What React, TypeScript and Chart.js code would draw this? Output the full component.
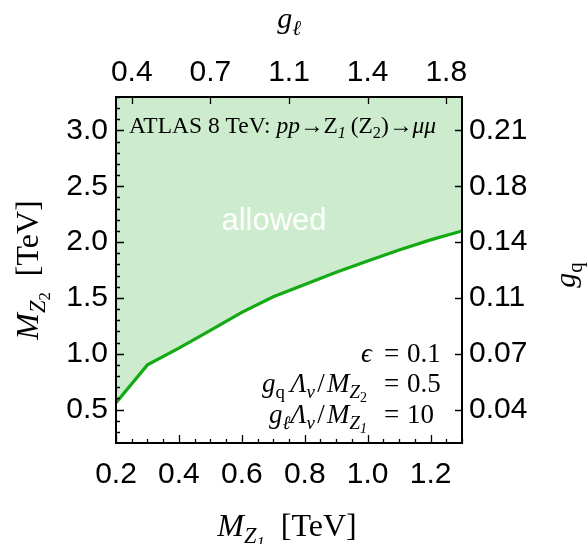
import React, { useEffect, useRef } from 'react';
import { Chart, registerables } from 'chart.js';

Chart.register(...registerables);

// ---- data ----
const mZ1 = [0.2, 0.3, 0.4, 0.5, 0.6, 0.7, 0.8, 0.9, 1.0, 1.1, 1.2, 1.3];
const mZ2Limit = [0.56, 0.9, 1.05, 1.21, 1.37, 1.51, 1.62, 1.73, 1.83, 1.93, 2.02, 2.1];

const xMajor = [0.2, 0.4, 0.6, 0.8, 1.0, 1.2];
const xLabels = ['0.2', '0.4', '0.6', '0.8', '1.0', '1.2'];
const yMajor = [0.5, 1.0, 1.5, 2.0, 2.5, 3.0];
const yLabels = ['0.5', '1.0', '1.5', '2.0', '2.5', '3.0'];
const topTicks = [0.25, 0.5, 0.75, 1.0, 1.25];
const topLabels = ['0.4', '0.7', '1.1', '1.4', '1.8'];
const rightTicks = [0.5, 1.0, 1.5, 2.0, 2.5, 3.0];
const rightLabels = ['0.04', '0.07', '0.11', '0.14', '0.18', '0.21'];

const X_MIN = 0.2, X_MAX = 1.3, Y_MIN = 0.2, Y_MAX = 3.3;

const LINE = 'rgb(20,170,20)';
const FILL = 'rgb(205,236,206)';
const SANS = '"Liberation Sans", Arial, sans-serif';
const SERIF = '"Liberation Serif", "Times New Roman", serif';

type Run = { t: string; it?: boolean; lvl?: number };

function runSize(r: Run, size: number) {
  return r.lvl === 1 ? size * 0.7 : r.lvl === 2 ? size * 0.52 : size;
}
function runFont(r: Run, size: number) {
  return `${r.it ? 'italic ' : ''}${runSize(r, size)}px ${SERIF}`;
}
function runDy(r: Run, size: number) {
  return r.lvl === 1 ? size * 0.22 : r.lvl === 2 ? size * 0.36 : 0;
}
function runsWidth(ctx: CanvasRenderingContext2D, runs: Run[], size: number) {
  let w = 0;
  for (const r of runs) {
    ctx.font = runFont(r, size);
    w += ctx.measureText(r.t).width;
  }
  return w;
}
function drawRuns(
  ctx: CanvasRenderingContext2D,
  runs: Run[],
  x: number,
  y: number,
  size: number,
  align: 'left' | 'center' | 'right',
  color = '#000'
) {
  const w = runsWidth(ctx, runs, size);
  let cx = align === 'center' ? x - w / 2 : align === 'right' ? x - w : x;
  ctx.fillStyle = color;
  ctx.textAlign = 'left';
  ctx.textBaseline = 'alphabetic';
  for (const r of runs) {
    ctx.font = runFont(r, size);
    ctx.fillText(r.t, cx, y + runDy(r, size));
    cx += ctx.measureText(r.t).width;
  }
}

const atlasRuns: Run[] = [
  { t: 'ATLAS 8 TeV: ' },
  { t: 'pp', it: true },
  { t: '\u2192' },
  { t: 'Z' },
  { t: '1', it: true, lvl: 1 },
  { t: '\u2009(' },
  { t: 'Z' },
  { t: '2', lvl: 1 },
  { t: ')' },
  { t: '\u2192' },
  { t: '\u03bc\u03bc', it: true },
];

const line1Left: Run[] = [{ t: '\u03f5', it: true }];
const line2Left: Run[] = [
  { t: 'g', it: true },
  { t: 'q', lvl: 1 },
  { t: '\u2009' },
  { t: '\u039b', it: true },
  { t: 'v', it: true, lvl: 1 },
  { t: '\u200a/\u200a' },
  { t: 'M', it: true },
  { t: 'Z', it: true, lvl: 1 },
  { t: '2', lvl: 2 },
];
const line3Left: Run[] = [
  { t: 'g', it: true },
  { t: '\u2113', it: true, lvl: 1 },
  { t: '\u039b', it: true },
  { t: 'v', it: true, lvl: 1 },
  { t: '\u200a/\u200a' },
  { t: 'M', it: true },
  { t: 'Z', it: true, lvl: 1 },
  { t: '1', it: true, lvl: 2 },
];
const paramValues = ['0.1', '0.5', '10'];

const bottomTitle: Run[] = [
  { t: 'M', it: true },
  { t: 'Z', it: true, lvl: 1 },
  { t: '1', it: true, lvl: 2 },
  { t: '  [TeV]' },
];
const leftTitle: Run[] = [
  { t: 'M', it: true },
  { t: 'Z', it: true, lvl: 1 },
  { t: '2', lvl: 2 },
  { t: '  [TeV]' },
];
const topTitle: Run[] = [
  { t: 'g', it: true },
  { t: '\u2113', it: true, lvl: 1 },
];
const rightTitle: Run[] = [
  { t: 'g', it: true },
  { t: 'q', lvl: 1 },
];

const decorPlugin = {
  id: 'decor',
  afterDatasetsDraw(chart: any) {
    const ctx: CanvasRenderingContext2D = chart.ctx;
    const { left, right, top, bottom } = chart.chartArea;
    const xs = chart.scales.x;
    const ys = chart.scales.y;
    ctx.save();

    // "allowed"
    ctx.fillStyle = '#fff';
    ctx.font = `31px ${SANS}`;
    ctx.textAlign = 'center';
    ctx.textBaseline = 'alphabetic';
    ctx.fillText('allowed', 274, 230);

    // inward tick marks
    ctx.strokeStyle = '#000';
    ctx.lineWidth = 1.3;
    ctx.beginPath();
    for (let k = 4; k <= 26; k++) {
      const v = k * 0.05;
      const px = Math.round(xs.getPixelForValue(v)) + 0.5;
      const major = k % 4 === 0;
      const len = major ? 8 : 4;
      ctx.moveTo(px, bottom);
      ctx.lineTo(px, bottom - len);
    }
    for (let k = 3; k <= 33; k++) {
      const v = k * 0.1;
      const py = Math.round(ys.getPixelForValue(v)) + 0.5;
      const major = k % 5 === 0;
      const len = major ? 8 : 4;
      ctx.moveTo(left, py);
      ctx.lineTo(left + len, py);
    }
    const xt = chart.scales.x2;
    for (const v of topTicks) {
      const px = Math.round(xt.getPixelForValue(v)) + 0.5;
      ctx.moveTo(px, top);
      ctx.lineTo(px, top + 7);
    }
    const yr = chart.scales.y2;
    for (const v of rightTicks) {
      const py = Math.round(yr.getPixelForValue(v)) + 0.5;
      ctx.moveTo(right, py);
      ctx.lineTo(right - 7, py);
    }
    ctx.stroke();

    // frame
    ctx.lineWidth = 2;
    ctx.strokeRect(left, top, right - left, bottom - top);

    // annotation texts
    drawRuns(ctx, atlasRuns, 129, 133, 23.5, 'left');
    const eqX = 384;
    const baseY = [362, 392, 423];
    const leftEnds = [372, 367, 367];
    const lefts = [line1Left, line2Left, line3Left];
    for (let i = 0; i < 3; i++) {
      drawRuns(ctx, lefts[i], leftEnds[i], baseY[i], 27, 'right');
      drawRuns(ctx, [{ t: '=' }], eqX, baseY[i], 27, 'left');
      drawRuns(ctx, [{ t: paramValues[i] }], eqX + 23, baseY[i], 27, 'left');
    }

    // axis titles
    const cx = (left + right) / 2;
    const cy = (top + bottom) / 2;
    drawRuns(ctx, bottomTitle, cx - 2, 536, 32, 'center');
    drawRuns(ctx, topTitle, cx, 28, 30, 'center');
    ctx.save();
    ctx.translate(38, cy);
    ctx.rotate(-Math.PI / 2);
    drawRuns(ctx, leftTitle, 0, 0, 32, 'center');
    ctx.restore();
    ctx.save();
    ctx.translate(575, cy + 5);
    ctx.rotate(-Math.PI / 2);
    drawRuns(ctx, rightTitle, 0, 0, 30, 'center');
    ctx.restore();

    ctx.restore();
  },
};

const tickFont = { family: SANS, size: 30 };

export default function App() {
  const ref = useRef<HTMLCanvasElement | null>(null);
  useEffect(() => {
    if (!ref.current) return;
    const chart = new Chart(ref.current, {
      type: 'line',
      data: {
        datasets: [
          {
            data: mZ1.map((x, i) => ({ x, y: mZ2Limit[i] })),
            borderColor: LINE,
            borderWidth: 3.2,
            backgroundColor: FILL,
            fill: 'end',
            pointRadius: 0,
            tension: 0,
            xAxisID: 'x',
            yAxisID: 'y',
          },
        ],
      },
      options: {
        animation: false,
        responsive: false,
        devicePixelRatio: 1,
        events: [],
        layout: { padding: 0 },
        plugins: { legend: { display: false }, tooltip: { enabled: false } },
        scales: {
          x: {
            type: 'linear',
            position: 'bottom',
            min: X_MIN,
            max: X_MAX,
            afterBuildTicks: (s: any) => {
              s.ticks = xMajor.map((v) => ({ value: v }));
            },
            afterFit: (s: any) => {
              s.height = 101;
            },
            ticks: {
              callback: (_v: any, i: number) => xLabels[i],
              font: tickFont,
              color: '#000',
              padding: 14,
              maxRotation: 0,
              autoSkip: false,
            },
            grid: { display: false, drawTicks: false },
            border: { display: false },
          },
          x2: {
            type: 'linear',
            position: 'top',
            min: X_MIN,
            max: X_MAX,
            afterBuildTicks: (s: any) => {
              s.ticks = topTicks.map((v) => ({ value: v }));
            },
            afterFit: (s: any) => {
              s.height = 97;
            },
            ticks: {
              callback: (_v: any, i: number) => topLabels[i],
              font: tickFont,
              color: '#000',
              padding: 6,
              maxRotation: 0,
              autoSkip: false,
            },
            grid: { display: false, drawTicks: false },
            border: { display: false },
          },
          y: {
            type: 'linear',
            position: 'left',
            min: Y_MIN,
            max: Y_MAX,
            afterBuildTicks: (s: any) => {
              s.ticks = yMajor.map((v) => ({ value: v }));
            },
            afterFit: (s: any) => {
              s.width = 116;
            },
            ticks: {
              callback: (_v: any, i: number) => yLabels[i],
              font: tickFont,
              color: '#000',
              padding: 8,
              autoSkip: false,
            },
            grid: { display: false, drawTicks: false },
            border: { display: false },
          },
          y2: {
            type: 'linear',
            position: 'right',
            min: Y_MIN,
            max: Y_MAX,
            afterBuildTicks: (s: any) => {
              s.ticks = rightTicks.map((v) => ({ value: v }));
            },
            afterFit: (s: any) => {
              s.width = 125;
            },
            ticks: {
              callback: (_v: any, i: number) => rightLabels[i],
              font: tickFont,
              color: '#000',
              padding: 7,
              autoSkip: false,
            },
            grid: { display: false, drawTicks: false },
            border: { display: false },
          },
        },
      },
      plugins: [decorPlugin],
    } as any);
    return () => chart.destroy();
  }, []);

  return (
    <div style={{ position: 'absolute', left: 0, top: 0, width: 587, height: 544, background: '#fff' }}>
      <canvas ref={ref} width={587} height={544} style={{ display: 'block' }} />
    </div>
  );
}
